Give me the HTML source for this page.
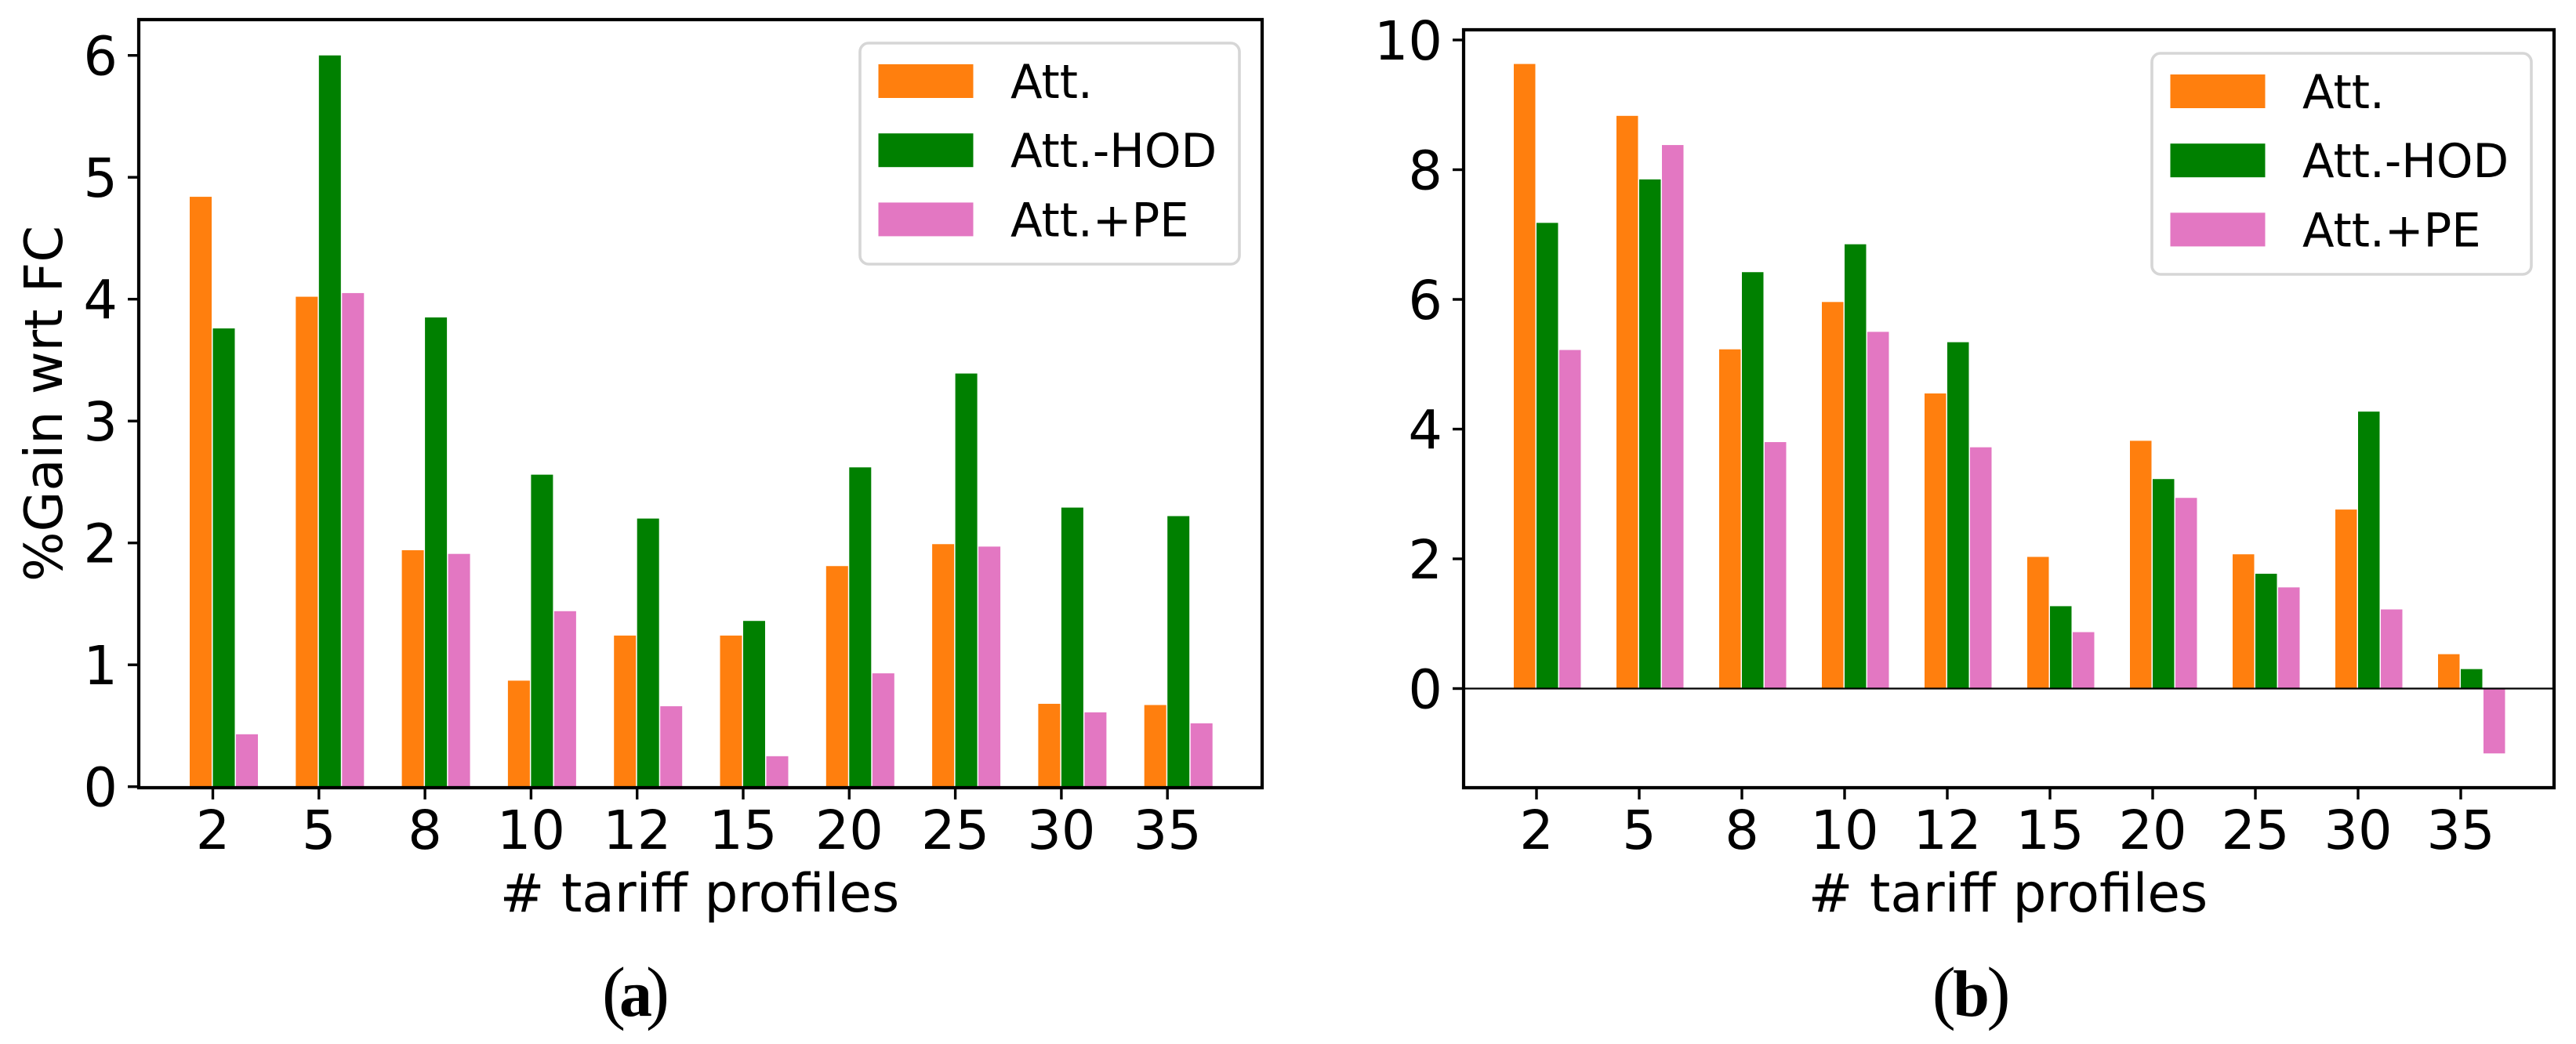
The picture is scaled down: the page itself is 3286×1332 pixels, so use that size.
<!DOCTYPE html>
<html lang="en">
<head>
<meta charset="utf-8">
<title>Gain vs tariff profiles</title>
<style>
html,body{margin:0;padding:0;background:#fff;width:3286px;height:1332px;overflow:hidden}
svg{display:block}
text{font-family:"DejaVu Sans","Liberation Sans",sans-serif;fill:#000}
.cap{font-family:"Liberation Serif",serif}
</style>
</head>
<body>
<svg id="figure" xmlns="http://www.w3.org/2000/svg" width="3286" height="1332" viewBox="0 0 3286 1332"></svg>
<script>
const categories = ['2','5','8','10','12','15','20','25','30','35'];
const seriesNames = ['Att.','Att.-HOD','Att.+PE'];
const seriesColors = ['#ff7f0e','#008000','#e377c2'];
const attA = [4.84,4.02,1.94,0.87,1.24,1.24,1.81,1.99,0.68,0.67];
const hodA = [3.76,6.00,3.85,2.56,2.20,1.36,2.62,3.39,2.29,2.22];
const peA  = [0.43,4.05,1.91,1.44,0.66,0.25,0.93,1.97,0.61,0.52];
const attB = [9.63,8.83,5.23,5.96,4.55,2.03,3.82,2.07,2.76,0.53];
const hodB = [7.18,7.85,6.42,6.85,5.34,1.27,3.23,1.77,4.27,0.30];
const peB  = [5.22,8.38,3.80,5.50,3.72,0.87,2.94,1.56,1.22,-1.00];
const yTicksA = [0,1,2,3,4,5,6];
const yTicksB = [0,2,4,6,8,10];

const NS = 'http://www.w3.org/2000/svg';
const fig = document.getElementById('figure');
function make(tag, attrs, parent, txt){
  const e = document.createElementNS(NS, tag);
  for (const k in attrs) e.setAttribute(k, attrs[k]);
  if (txt !== undefined) e.textContent = txt;
  parent.appendChild(e);
  return e;
}
function drawPanel(cfg){
  const g = make('g', {}, fig);
  
  
  const xScale = i => cfg.x0 + i * cfg.dx;
  const yScale = v => cfg.y0 - v * cfg.uy;

  cfg.series.forEach((vals, s) => {
    vals.forEach((v, i) => {
      const left = xScale(i) + (s - 1) * cfg.step;
      const top = Math.min(yScale(v), yScale(0));
      const h = Math.abs(yScale(v) - yScale(0));
      const bar = make('rect', {x:left, y:top, width:cfg.bw, height:h, fill:seriesColors[s]}, g);
      
      
    });
  });

  if (cfg.zeroLine){
    const zl = make('line', {x1:cfg.left, x2:cfg.right, y1:yScale(0), y2:yScale(0), stroke:'#000', 'stroke-width':2.2}, g);
    
    
  }

  categories.forEach((c, i) => {
    const t = make('line', {x1:xScale(i), x2:xScale(i), y1:cfg.bottom, y2:cfg.bottom + 15, stroke:'#000', 'stroke-width':3.4}, g);
    
    
    const l = make('text', {x:xScale(i), y:1083, 'font-size':68.5, 'text-anchor':'middle'}, g, c);
    
    
  });
  cfg.yTicks.forEach(v => {
    const t = make('line', {x1:cfg.left - 14, x2:cfg.left, y1:yScale(v), y2:yScale(v), stroke:'#000', 'stroke-width':3.4}, g);
    
    
    const l = make('text', {x:cfg.left - 27, y:yScale(v) + 25, 'font-size':68.5, 'text-anchor':'end'}, g, String(v));
    
    
  });

  const frame = make('path', {d:`M${cfg.left} ${cfg.top}H${cfg.right}V${cfg.bottom}H${cfg.left}Z`, fill:'none', stroke:'#000', 'stroke-width':4.2}, g);
  
  

  const xt = make('text', {x:(cfg.left + cfg.right) / 2 - 1, y:1163, 'font-size':67.6, 'text-anchor':'middle'}, g, '# tariff profiles');
  
  

  const lg = make('g', {}, g);
  
  
  const box = make('rect', {x:cfg.legX, y:cfg.legY, width:484, height:282, rx:11, ry:11, fill:'#fff', stroke:'#d6d6d6', 'stroke-width':3.6}, lg);
  
  
  seriesNames.forEach((n, s) => {
    const py = cfg.legY + 27 + s * 88.2;
    const sw = make('rect', {x:cfg.legX + 23.5, y:py, width:121, height:43, fill:seriesColors[s]}, lg);
    
    
    const tx = make('text', {x:cfg.legX + 192, y:py + 43, 'font-size':59.3}, lg, n);
    
    
  });

  const cap = make('text', {x:cfg.capX, y:1296, 'font-size':90, 'text-anchor':'middle', class:'cap'}, g);
  
  
  make('tspan', {}, cap, '(');
  make('tspan', {'font-weight':'bold', 'font-size':84, dx:cfg.capGap}, cap, cfg.id);
  make('tspan', {dx:cfg.capGap}, cap, ')');
}

drawPanel({id:'a', x0:271.5, dx:135.3, step:29.5, bw:28, y0:1003.7, uy:155.5,
  left:177, right:1610, top:25, bottom:1005, yTicks:yTicksA, series:[attA,hodA,peA],
  zeroLine:false, legX:1097, legY:55, capX:811, capGap:-8});
drawPanel({id:'b', x0:1960, dx:131, step:29, bw:27.5, y0:878.5, uy:82.75,
  left:1867, right:3258, top:38, bottom:1005, yTicks:yTicksB, series:[attB,hodB,peB],
  zeroLine:true, legX:2745, legY:68, capX:2514.6, capGap:-3.5});

const yTitle = make('text', {x:0, y:0, 'font-size':67, 'text-anchor':'middle', transform:'translate(79 515) rotate(-90)'}, fig, '%Gain wrt FC');


</script>
</body>
</html>
